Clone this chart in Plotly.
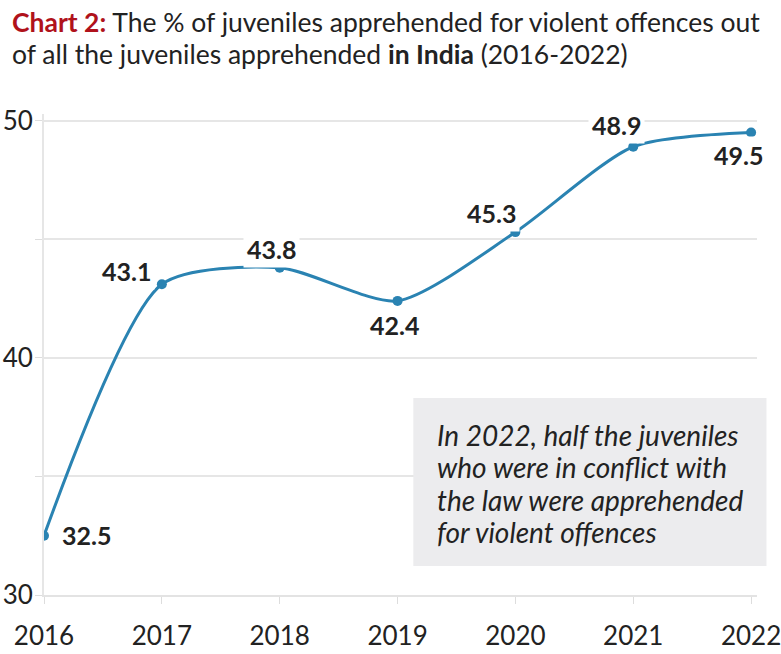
import plotly.graph_objects as go

years = [2016, 2017, 2018, 2019, 2020, 2021, 2022]
values = [32.5, 43.1, 43.8, 42.4, 45.3, 48.9, 49.5]
value_labels = ["32.5", "43.1", "43.8", "42.4", "45.3", "48.9", "49.5"]
y_tick_vals = [30, 35, 40, 45, 50]
y_tick_text = ["30", "", "40", "", "50"]
note_lines = ["In 2022, half the juveniles", "who were in conflict with",
              "the law were apprehended", "for violent offences"]
title_lines = ["<b><span style='color:#b0121b'>Chart 2:</span></b> The % of juveniles apprehended for violent offences out",
               "of all the juveniles apprehended <b>in India</b> (2016-2022)"]

# label offsets (pixels) per point
label_shifts = [(42, 1), (-35, 13), (-8, 19), (-3, -24), (-24, 19), (-17, 22), (-13, -22)]

LINE = "#2a83b2"
FONT = "Lato"

fig = go.Figure()
fig.add_trace(go.Scatter(
    x=years, y=values, mode="lines+markers",
    line=dict(color=LINE, width=3, shape="spline", smoothing=0.7),
    marker=dict(color=LINE, size=10),
    hoverinfo="skip", showlegend=False,
))

for x, y, t, (dx, dy) in zip(years, values, value_labels, label_shifts):
    fig.add_annotation(
        x=x, y=y, text=f"<b>{t}</b>", showarrow=False,
        xshift=dx, yshift=dy, bgcolor="white", borderpad=3,
        font=dict(family=FONT, size=25, color="#222222"),
    )

# note box
fig.add_shape(type="rect", xref="paper", yref="paper",
              x0=0.518, x1=1.0133, y0=0.0603, y1=0.4096,
              fillcolor="#ececee", line=dict(width=0), layer="above")
for i, ln in enumerate(note_lines):
    fig.add_annotation(
        xref="paper", yref="paper", x=0.548, y=0.3326 - i * 0.0672,
        xanchor="left", yanchor="middle", text=f"<i>{ln}</i>",
        showarrow=False, align="left",
        font=dict(family=FONT, size=28, color="#222222"),
    )

# title lines
for i, ln in enumerate(title_lines):
    fig.add_annotation(
        xref="paper", yref="paper", x=-0.048, y=1.1913 - i * 0.0666,
        xanchor="left", yanchor="middle", text=ln, showarrow=False, align="left",
        font=dict(family=FONT, size=26.5, color="#222222"),
    )

fig.update_layout(
    width=781, height=654,
    margin=dict(l=44, r=24, t=114, b=59),
    paper_bgcolor="white", plot_bgcolor="white",
    font=dict(family=FONT, color="#222222"),
    xaxis=dict(
        range=[2016, 2022.05], tickvals=years, ticks="outside", ticklen=7,
        tickcolor="#dddddd", showgrid=False, zeroline=False,
        showline=True, linecolor="#e3e3e3", linewidth=2, automargin=False,
        ticklabelstandoff=10, ticklabeloverflow="allow",
        tickfont=dict(family=FONT, size=26, color="#222222"),
    ),
    yaxis=dict(
        range=[30, 50.28], tickvals=y_tick_vals, ticktext=y_tick_text,
        ticks="outside", ticklen=7, tickcolor="#dddddd",
        showgrid=True, gridcolor="#e6e6e6", gridwidth=2, zeroline=False,
        showline=True, linecolor="#e6e6e6", linewidth=2, automargin=False,
        ticklabelstandoff=-3, ticklabeloverflow="allow",
        tickfont=dict(family=FONT, size=26, color="#222222"),
    ),
)

# remove the browser's default 8px page margin so the figure fills the window
fig.write_html("out.html", config={"displayModeBar": False},
               post_script="document.body.style.margin='0px';")
